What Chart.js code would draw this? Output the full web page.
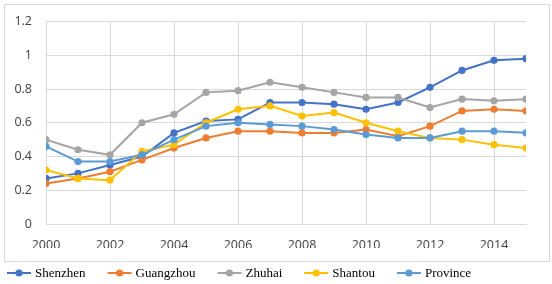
<!DOCTYPE html>
<html>
<head>
<meta charset="utf-8">
<script src="https://cdn.jsdelivr.net/npm/chart.js@4/dist/chart.umd.min.js"></script>
<style>
  html, body { margin: 0; padding: 0; background: #fff; }
  #wrap { width: 552px; height: 284px; position: relative; }
</style>
</head>
<body>
<div id="wrap"><canvas id="myChart"></canvas></div>
<script>
// data
var years = [2000, 2001, 2002, 2003, 2004, 2005, 2006, 2007, 2008, 2009, 2010, 2011, 2012, 2013, 2014, 2015];
var seriesNames = ['Shenzhen', 'Guangzhou', 'Zhuhai', 'Shantou', 'Province'];
var shenzhen  = [0.27, 0.30, 0.35, 0.40, 0.54, 0.61, 0.62, 0.72, 0.72, 0.71, 0.68, 0.72, 0.81, 0.91, 0.97, 0.98];
var guangzhou = [0.24, 0.27, 0.31, 0.38, 0.45, 0.51, 0.55, 0.55, 0.54, 0.54, 0.56, 0.52, 0.58, 0.67, 0.68, 0.67];
var zhuhai    = [0.50, 0.44, 0.41, 0.60, 0.65, 0.78, 0.79, 0.84, 0.81, 0.78, 0.75, 0.75, 0.69, 0.74, 0.73, 0.74];
var shantou   = [0.32, 0.27, 0.26, 0.43, 0.47, 0.60, 0.68, 0.70, 0.64, 0.66, 0.60, 0.55, 0.51, 0.50, 0.47, 0.45];
var province  = [0.46, 0.37, 0.37, 0.41, 0.50, 0.58, 0.60, 0.59, 0.58, 0.56, 0.53, 0.51, 0.51, 0.55, 0.55, 0.54];
var seriesValues = [shenzhen, guangzhou, zhuhai, shantou, province];
var colors = ['#4472C4', '#ED7D31', '#A5A5A5', '#FFC000', '#5B9BD5'];

var gridColor = '#D9D9D9';
var tickFont = { family: "'Open Sans', sans-serif", size: 12.5 };

var datasets = seriesValues.map(function(vals, i) {
    return {
        label: seriesNames[i],
        data: vals.map(function(v, j) { return { x: years[j], y: v }; }),
        borderColor: colors[i],
        backgroundColor: colors[i],
        borderWidth: 2,
        pointRadius: 3.6,
        pointBorderWidth: 0,
        pointHoverRadius: 3.6,
        tension: 0,
        order: seriesNames.length - i
    };
});

// outer frame around the plot (legend sits below it)
var framePlugin = {
    id: 'frame',
    beforeDraw: function(chart) {
        var ctx = chart.ctx;
        ctx.save();
        ctx.fillStyle = '#fff';
        ctx.fillRect(0, 0, chart.width, chart.height);
        ctx.strokeStyle = gridColor;
        ctx.lineWidth = 1;
        ctx.strokeRect(4.5, 4.5, 545, 257);
        ctx.restore();
    }
};

// legend with line + marker, drawn under the frame
var legendPlugin = {
    id: 'lineLegend',
    afterDraw: function(chart) {
        var ctx = chart.ctx;
        var x = 7, y = 273;
        ctx.save();
        ctx.font = "13px 'Liberation Serif', 'Times New Roman', serif";
        ctx.textBaseline = 'middle';
        chart.data.datasets.forEach(function(ds) {
            ctx.strokeStyle = ds.borderColor;
            ctx.fillStyle = ds.borderColor;
            ctx.lineWidth = 2;
            ctx.beginPath();
            ctx.moveTo(x, y);
            ctx.lineTo(x + 24, y);
            ctx.stroke();
            ctx.beginPath();
            ctx.arc(x + 12, y, 3.6, 0, Math.PI * 2);
            ctx.fill();
            ctx.fillStyle = '#000';
            ctx.fillText(ds.label, x + 28, y + 1);
            x += 28 + ctx.measureText(ds.label).width + 22;
        });
        ctx.restore();
    }
};

var ctx1 = document.getElementById('myChart');
var lineChart = new Chart(ctx1, {
    type: 'line',
    data: { datasets: datasets },
    options: {
        responsive: true,
        maintainAspectRatio: false,
        animation: false,
        events: [],
        layout: { padding: { left: 0, right: 26, top: 12, bottom: 36 } },
        plugins: {
            legend: { display: false },
            tooltip: { enabled: false }
        },
        scales: {
            x: {
                type: 'linear',
                min: 2000,
                max: 2015,
                afterFit: function(s) { s.height = 24; },
                grid: { color: gridColor, drawTicks: false, lineWidth: 1 },
                border: { color: gridColor },
                ticks: {
                    stepSize: 2,
                    includeBounds: false,
                    padding: 14,
                    maxRotation: 0,
                    color: '#404040',
                    font: tickFont,
                    callback: function(v) { return String(v); }
                }
            },
            y: {
                min: 0,
                max: 1.2,
                afterFit: function(s) { s.width = 46; },
                grid: { color: gridColor, drawTicks: false, lineWidth: 1 },
                border: { color: gridColor },
                ticks: {
                    stepSize: 0.2,
                    padding: 14,
                    color: '#404040',
                    font: tickFont,
                    callback: function(v) { return String(Number(v.toFixed(1))); }
                }
            }
        }
    },
    plugins: [framePlugin, legendPlugin]
});
</script>
</body>
</html>
